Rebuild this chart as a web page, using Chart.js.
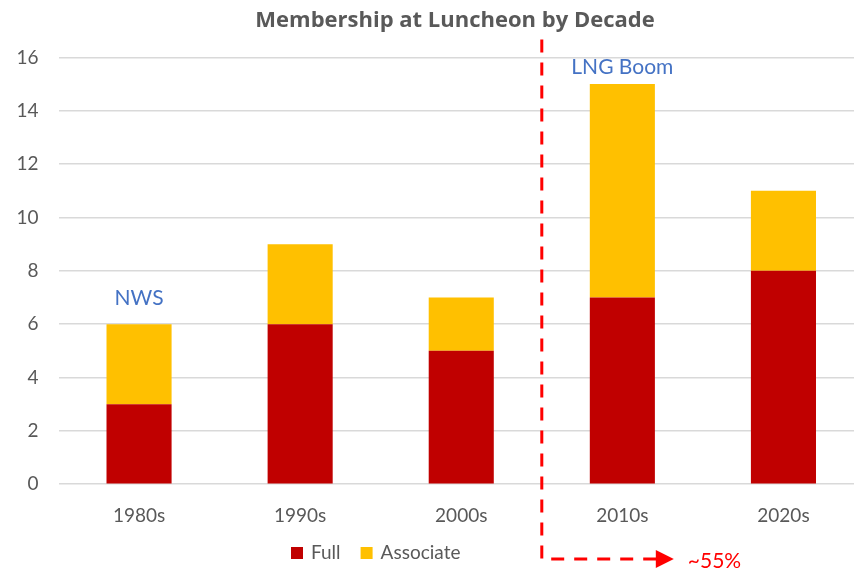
<!DOCTYPE html>
<html lang="en">
<head>
    <meta charset="UTF-8">
    <title>Membership at Luncheon by Decade</title>
    <script src="https://cdn.jsdelivr.net/npm/chart.js"></script>
    <style>
        html, body {
            margin: 0;
            padding: 0;
            overflow: hidden;
            background: #ffffff;
        }
    </style>
</head>
<body>
    <canvas id="barChart" width="866" height="571"></canvas>

    <script>
        // chart data
        const decades = ['1980s', '1990s', '2000s', '2010s', '2020s'];
        const fullMembers = [3, 6, 5, 7, 8];
        const associateMembers = [3, 3, 2, 8, 3];
        const yTicks = [0, 2, 4, 6, 8, 10, 12, 14, 16];

        // notes written over the bars
        const noteBars = [0, 3];
        const noteTexts = ['NWS', 'LNG Boom'];
        const splitAfter = 2.5;     // dashed line between 2000s and 2010s
        const growthLabel = '~55%';

        const textGrey = '#595959';
        const fontName = 'Lato, "Open Sans", sans-serif';
        const noteLift = [26, 17];  // px above the bar top

        // annotations + custom legend
        const extrasPlugin = {
            id: 'extras',
            afterLayout(chart) {
                // excel centres the title a bit right of the canvas middle
                chart.titleBlock.left = 46;
            },
            afterDraw(chart) {
                const ctx = chart.ctx;
                const x = chart.scales.x;
                const y = chart.scales.y;

                // blue notes above the bars
                ctx.save();
                ctx.fillStyle = '#4472C4';
                ctx.font = '21px ' + fontName;
                ctx.textAlign = 'center';
                ctx.textBaseline = 'middle';
                noteBars.forEach((i, k) => {
                    const total = fullMembers[i] + associateMembers[i];
                    ctx.fillText(noteTexts[k], x.getPixelForValue(i), y.getPixelForValue(total) - noteLift[k]);
                });
                ctx.restore();

                // red dashed divider with arrow
                const lineX = x.getPixelForValue(splitAfter);
                const topY = chart.chartArea.top - 18;
                const arrowY = chart.height - 12;
                ctx.save();
                ctx.strokeStyle = '#FF0000';
                ctx.fillStyle = '#FF0000';
                ctx.lineWidth = 3;
                ctx.setLineDash([13, 10]);
                ctx.beginPath();
                ctx.moveTo(lineX, topY);
                ctx.lineTo(lineX, arrowY);
                ctx.lineTo(lineX + 115, arrowY);
                ctx.stroke();
                ctx.setLineDash([]);
                ctx.beginPath();
                ctx.moveTo(lineX + 114, arrowY - 9);
                ctx.lineTo(lineX + 132, arrowY);
                ctx.lineTo(lineX + 114, arrowY + 9);
                ctx.closePath();
                ctx.fill();
                ctx.font = '21px ' + fontName;
                ctx.textBaseline = 'middle';
                ctx.textAlign = 'left';
                ctx.fillText(growthLabel, lineX + 146, arrowY + 2);
                ctx.restore();

                // legend
                ctx.save();
                ctx.font = '19px ' + fontName;
                ctx.textBaseline = 'middle';
                ctx.textAlign = 'left';
                let lx = 291;
                const ly = chart.height - 18;
                chart.data.datasets.forEach(ds => {
                    ctx.fillStyle = ds.backgroundColor;
                    ctx.fillRect(lx, ly - 6, 12, 12);
                    ctx.fillStyle = textGrey;
                    ctx.fillText(ds.label, lx + 20, ly);
                    lx += 20 + ctx.measureText(ds.label).width + 20;
                });
                ctx.restore();
            }
        };

        const ctx = document.getElementById('barChart').getContext('2d');
        const barChart = new Chart(ctx, {
            type: 'bar',
            data: {
                labels: decades,
                datasets: [
                    {
                        label: 'Full',
                        data: fullMembers,
                        backgroundColor: '#C00000',
                        barPercentage: 0.404,
                        categoryPercentage: 1
                    },
                    {
                        label: 'Associate',
                        data: associateMembers,
                        backgroundColor: '#FFC000',
                        barPercentage: 0.404,
                        categoryPercentage: 1
                    }
                ]
            },
            options: {
                responsive: false,
                animation: false,
                layout: {
                    padding: { left: 0, right: 2, top: 8, bottom: 24 }
                },
                plugins: {
                    legend: { display: false },
                    tooltip: { enabled: false },
                    title: {
                        display: true,
                        text: 'Membership at Luncheon by Decade',
                        color: textGrey,
                        font: { family: '"Open Sans", sans-serif', size: 22, weight: 'bold' },
                        padding: { top: 0, bottom: 23 }
                    }
                },
                scales: {
                    x: {
                        stacked: true,
                        grid: { display: false, drawTicks: false },
                        border: { display: false },
                        ticks: {
                            color: textGrey,
                            font: { family: fontName, size: 19 },
                            padding: 20
                        }
                    },
                    y: {
                        stacked: true,
                        min: 0,
                        max: 16,
                        afterFit(scale) { scale.width = 58.5; },
                        afterBuildTicks(scale) {
                            scale.ticks = yTicks.map(v => ({ value: v }));
                        },
                        grid: { color: '#D9D9D9', lineWidth: 1.5, drawTicks: false },
                        border: { display: false },
                        ticks: {
                            color: textGrey,
                            font: { family: fontName, size: 19 },
                            padding: 20,
                            callback: (v) => String(v)
                        }
                    }
                }
            },
            plugins: [extrasPlugin]
        });
    </script>
</body>
</html>
